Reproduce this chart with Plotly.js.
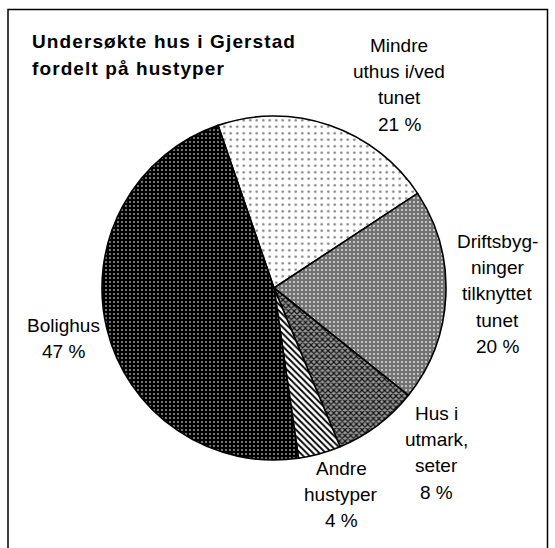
<!DOCTYPE html>
<html>
<head>
<meta charset="utf-8">
<script src="https://cdn.plot.ly/plotly-3.0.1.min.js"></script>
<style>html,body{margin:0;padding:0;background:#fff;}#chart{width:555px;height:548px;}</style>
</head>
<body>
<div id="chart"></div>
<script>
// ---- data ----
const titleLines = ["Undersøkte hus i Gjerstad", "fordelt på hustyper"];
const categories = ["Mindre uthus i/ved tunet", "Driftsbygninger tilknyttet tunet", "Hus i utmark, seter", "Andre hustyper", "Bolighus"];
const labelLines = [
  ["Mindre", "uthus i/ved", "tunet"],
  ["Driftsbyg-", "ninger", "tilknyttet", "tunet"],
  ["Hus i", "utmark,", "seter"],
  ["Andre", "hustyper"],
  ["Bolighus"]
];
const values = [21, 20, 8, 4, 47];

// ---- layout / style ----
const W = 555, H = 548;
const center = [274, 288], radius = 172;
const labelAnchor = [[399, 52], [497, 248], [436, 420], [341, 475], [63, 332]]; // first-line baseline, px
const lineStep = 26.3;
const fontFam = '"Liberation Sans", Arial, sans-serif';
const fs = 19;
const tfs = 19;

const trace = {
  type: 'pie',
  labels: categories,
  values: values,
  sort: false,
  direction: 'clockwise',
  rotation: -19,
  textinfo: 'none',
  hoverinfo: 'label+percent',
  showlegend: false,
  domain: {
    x: [(center[0] - radius) / W, (center[0] + radius) / W],
    y: [(H - center[1] - radius) / H, (H - center[1] + radius) / H]
  },
  marker: {
    colors: ['#ffffff', '#727272', '#8a8a8a', '#ffffff', '#000000'],
    line: {color: '#000000', width: 1.6},
    pattern: {
      shape: ['.', '.', 'x', '\\', '.'],
      bgcolor: ['#ffffff', '#727272', '#9a9a9a', '#ffffff', '#000000'],
      fgcolor: ['#777777', '#dddddd', '#111111', '#000000', '#a0a0a0'],
      size: [6.5, 4, 4, 4.5, 4],
      solidity: [0.12, 0.2, 0.5, 0.4, 0.18],
      fillmode: 'replace'
    }
  }
};

const annotations = [];
titleLines.forEach((t, i) => {
  annotations.push({
    xref: 'paper', yref: 'paper', x: 30 / W, y: 1 - (48 + i * 27 - 0.35 * tfs) / H,
    xanchor: 'left', yanchor: 'middle', showarrow: false,
    text: '<b><span style="letter-spacing:1.1px">' + t + '</span></b>',
    font: {family: fontFam, size: tfs, color: '#000'}
  });
});
categories.forEach((c, k) => {
  const lines = labelLines[k].concat([values[k] + ' %']);
  lines.forEach((t, i) => {
    const base = labelAnchor[k][1] + i * lineStep;
    annotations.push({
      xref: 'paper', yref: 'paper', x: labelAnchor[k][0] / W, y: 1 - (base - 0.35 * fs) / H,
      xanchor: 'center', yanchor: 'middle', showarrow: false, text: t,
      font: {family: fontFam, size: fs, color: '#000'}
    });
  });
});

const layout = {
  width: W, height: H,
  margin: {l: 0, r: 0, t: 0, b: 0},
  paper_bgcolor: '#ffffff',
  plot_bgcolor: '#ffffff',
  showlegend: false,
  annotations: annotations,
  shapes: [{
    type: 'rect', xref: 'paper', yref: 'paper',
    x0: 8 / W, x1: 547.5 / W, y0: -0.2, y1: 1 - 9.5 / H,
    line: {color: '#000', width: 1.5}, fillcolor: 'rgba(0,0,0,0)'
  }]
};

Plotly.newPlot('chart', [trace], layout, {displayModeBar: false, staticPlot: true});
</script>
</body>
</html>
